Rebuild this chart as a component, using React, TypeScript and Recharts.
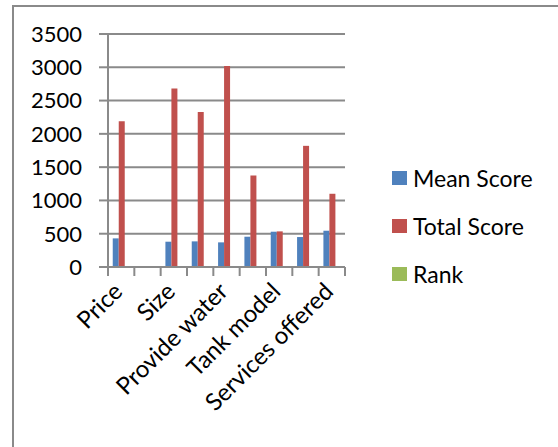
import { BarChart, Bar, XAxis, YAxis, CartesianGrid, Legend } from "recharts"

const categories = ["Price", "Colour", "Size", "Durability", "Provide water", "Brand", "Tank model", "Material", "Services offered"]
const meanScore = [430, 0, 380, 385, 370, 455, 530, 450, 545]
const totalScore = [2190, 0, 2680, 2330, 3020, 1375, 535, 1820, 1100]
const rank = [0, 0, 0, 0, 0, 0, 0, 0, 0]
const yTicks = [0, 500, 1000, 1500, 2000, 2500, 3000, 3500]
const legendOrder = ["Mean Score", "Total Score", "Rank"]

const FONT = "Lato, 'Open Sans', sans-serif"
const GRID = "#8a8a8a"

const data = categories.map((name, i) => ({
  name,
  mean: meanScore[i],
  total: totalScore[i],
  rank: rank[i],
}))

// Excel-style: tick marks sit between categories, labels on every other one
function CategoryTick(props: any) {
  const { x, y, payload, index, visibleTicksCount } = props
  const half = payload.offset ?? 237 / 9 / 2
  const isLast = index === visibleTicksCount - 1
  const tx = x - 3
  const ty = y + 20
  return (
    <g>
      <line x1={x - half} x2={x - half} y1={y} y2={y + 9} stroke={GRID} strokeWidth={2} />
      {isLast && <line x1={x + half} x2={x + half} y1={y} y2={y + 9} stroke={GRID} strokeWidth={2} />}
      {index % 2 === 0 && (
        <text
          x={tx}
          y={ty}
          dy="0.35em"
          textAnchor="end"
          transform={`rotate(-45 ${tx} ${ty})`}
          fill="#000"
          fontSize={24}
          fontFamily={FONT}
        >
          {payload.value}
        </text>
      )}
    </g>
  )
}

const renderLegend = (props: any) => {
  const items = [...props.payload].sort(
    (a: any, b: any) => legendOrder.indexOf(a.value) - legendOrder.indexOf(b.value)
  )
  return (
    <div style={{ fontFamily: FONT, fontSize: 23, color: "#000" }}>
      {items.map((entry: any) => (
        <div key={entry.value} style={{ display: "flex", alignItems: "center", height: 48 }}>
          <span style={{ display: "inline-block", width: 15, height: 14, background: entry.color, marginRight: 6 }} />
          <span>{entry.value}</span>
        </div>
      ))}
    </div>
  )
}

export default function App() {
  return (
    <div style={{ position: "fixed", left: 0, top: 0, width: 558, height: 447, overflow: "hidden", background: "#fff" }}>
      <div
        style={{
          position: "absolute",
          left: 12,
          top: 5,
          width: 600,
          height: 500,
          borderTop: `2px solid ${GRID}`,
          borderLeft: `2px solid ${GRID}`,
        }}
      />
      <div style={{ position: "absolute", left: 0, top: 0 }}>
        <BarChart
          width={558}
          height={447}
          data={data}
          margin={{ top: 34, right: 213, left: 0, bottom: 0 }}
          barCategoryGap="18%"
          barGap={0}
        >
          <CartesianGrid vertical={false} stroke={GRID} strokeWidth={2} />
          <XAxis
            dataKey="name"
            height={180}
            interval={0}
            tickSize={0}
            tickMargin={0}
            axisLine={{ stroke: GRID, strokeWidth: 2 }}
            tickLine={false}
            tick={<CategoryTick />}
          />
          <YAxis
            width={108}
            domain={[0, 3500]}
            ticks={yTicks}
            interval={0}
            tickSize={9}
            tickMargin={17}
            axisLine={{ stroke: GRID, strokeWidth: 2 }}
            tickLine={{ stroke: GRID, strokeWidth: 2 }}
            tick={{ fill: "#000", fontSize: 22, fontFamily: FONT }}
          />
          <Legend
            layout="horizontal"
            verticalAlign="middle"
            align="center"
            content={renderLegend}
            wrapperStyle={{ left: 392, top: 154, width: 166 }}
          />
          <Bar dataKey="mean" name="Mean Score" fill="#4F81BD" isAnimationActive={false} />
          <Bar dataKey="total" name="Total Score" fill="#C0504D" isAnimationActive={false} />
          <Bar dataKey="rank" name="Rank" fill="#9BBB59" isAnimationActive={false} />
        </BarChart>
      </div>
    </div>
  )
}
